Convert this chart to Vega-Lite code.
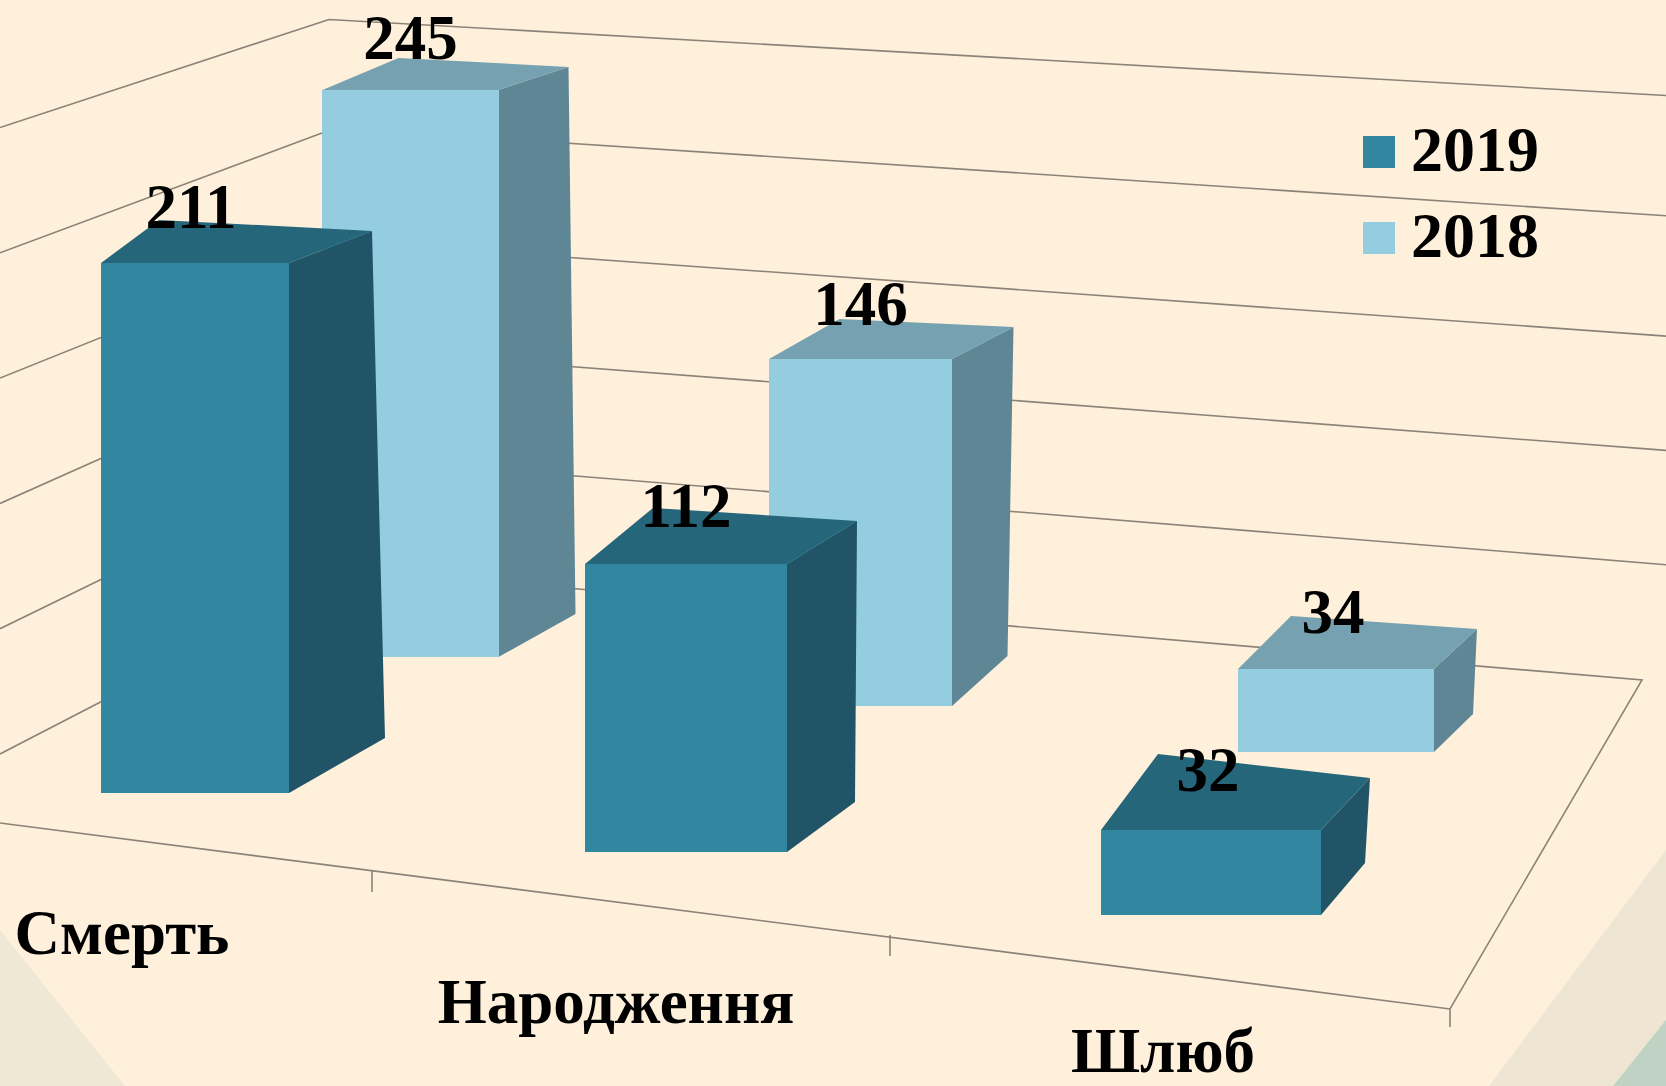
{"$schema":"https://vega.github.io/schema/vega-lite/v6.json","width":1666,"height":1086,"padding":0,"autosize":{"type":"none"},"background":"#FEF0DB","config":{"view":{"stroke":null}},"data":{"name":"bars","values":[{"category":"Смерть","year":"2019","value":211},{"category":"Смерть","year":"2018","value":245},{"category":"Народження","year":"2019","value":112},{"category":"Народження","year":"2018","value":146},{"category":"Шлюб","year":"2019","value":32},{"category":"Шлюб","year":"2018","value":34}]},"resolve":{"scale":{"x":"independent","y":"independent","shape":"independent"}},"layer":[
{"data":{"values":[{"part":"left"},{"part":"right"},{"part":"inner"}]},"encoding":{"x":{"datum":0,"type":"quantitative","axis":null,"scale":{"domain":[0,1],"range":[0,1666]}},"y":{"datum":0,"type":"quantitative","axis":null,"scale":{"domain":[0,1],"range":[1086,0]}},"shape":{"field":"part","type":"nominal","legend":null,"scale":{"domain":["left","right","inner"],"range":["M0 -156L125 0L0 0Z","M1489 0L1666 -236L1666 0Z","M1613 0L1666 -66L1666 0Z"]}},"fill":{"field":"part","type":"nominal","legend":null,"scale":{"domain":["left","right","inner"],"range":["#EFE8D5","#EEE6D2","#BFD2C4"]}}},"mark":{"type":"point","filled":true,"size":4,"opacity":1,"strokeWidth":0}},
{"data":{"values":[{"level":250},{"level":200},{"level":150},{"level":100},{"level":50},{"level":0}]},"encoding":{"x":{"datum":0,"type":"quantitative","axis":null,"scale":{"domain":[0,1],"range":[0,1666]}},"y":{"field":"level","type":"quantitative","axis":null,"scale":{"domain":[0,250],"range":[754,127.5],"nice":false}},"shape":{"field":"level","type":"nominal","legend":null,"scale":{"domain":[250,200,150,100,50,0],"range":["M0 0L329 -108L1666 -32","M0 0L336 -125L1666 -37","M0 0L341 -137L1666 -42","M0 0L346 -154L1666 -53","M0 0L351 -171L1666 -64","M0 0L356 -184L1642 -74L1450 255L0 69M372 117L372 138M890 181L890 202M1450 255L1450 273"]}}},"mark":{"type":"point","filled":false,"size":4,"opacity":1,"stroke":"#8C8378","strokeWidth":1.6}},
{"transform":[{"filter":"datum.category==='Смерть' && datum.year==='2018'"}],"encoding":{"x":{"field":"category","type":"nominal","axis":null,"scale":{"type":"point","domain":["Смерть"],"range":[410.5,410.5]}},"y":{"field":"value","type":"quantitative","axis":null,"scale":{"domain":[0,250],"range":[657,78.4],"nice":false}}},"layer":[
{"mark":{"type":"point","shape":"M88 0L158 -23L165 524L88 567Z","filled":true,"size":4,"opacity":1,"strokeWidth":0,"color":"#5F8694"}},
{"mark":{"type":"point","shape":"M-88 0L88 0L158 -23L-12 -32Z","filled":true,"size":4,"opacity":1,"strokeWidth":0,"color":"#75A1B1"}},
{"mark":{"type":"bar","width":177},"encoding":{"color":{"field":"year","type":"nominal","scale":{"domain":["2019","2018"],"range":["#33869F","#93CDDF"]},"legend":{"title":null,"orient":"none","legendX":1347,"legendY":120,"symbolType":"square","symbolSize":1024,"symbolStrokeWidth":0,"labelFont":"Liberation Serif","labelFontWeight":"bold","labelFontSize":64,"labelColor":"#000000","labelOffset":0,"rowPadding":22,"padding":0}}}},
{"mark":{"type":"text","font":"Liberation Serif","fontWeight":"bold","fontSize":63,"color":"#000000","baseline":"middle","dy":-50},"encoding":{"text":{"field":"value","type":"quantitative"}}}]},
{"transform":[{"filter":"datum.category==='Народження' && datum.year==='2018'"}],"encoding":{"x":{"field":"category","type":"nominal","axis":null,"scale":{"type":"point","domain":["Народження"],"range":[860.5,860.5]}},"y":{"field":"value","type":"quantitative","axis":null,"scale":{"domain":[0,250],"range":[706,112],"nice":false}}},"layer":[
{"mark":{"type":"point","shape":"M91.5 0L153 -32L147 297L91.5 347Z","filled":true,"size":4,"opacity":1,"strokeWidth":0,"color":"#5F8694"}},
{"mark":{"type":"point","shape":"M-91.5 0L91.5 0L153 -32L-21 -40Z","filled":true,"size":4,"opacity":1,"strokeWidth":0,"color":"#75A1B1"}},
{"mark":{"type":"bar","width":183},"encoding":{"color":{"field":"year","type":"nominal"}}},
{"mark":{"type":"text","font":"Liberation Serif","fontWeight":"bold","fontSize":63,"color":"#000000","baseline":"middle","dy":-53},"encoding":{"text":{"field":"value","type":"quantitative"}}}]},
{"transform":[{"filter":"datum.category==='Шлюб' && datum.year==='2018'"}],"encoding":{"x":{"field":"category","type":"nominal","axis":null,"scale":{"type":"point","domain":["Шлюб"],"range":[1336,1336]}},"y":{"field":"value","type":"quantitative","axis":null,"scale":{"domain":[0,250],"range":[752,142],"nice":false}}},"layer":[
{"mark":{"type":"point","shape":"M98 0L141 -40L137 45L98 83Z","filled":true,"size":4,"opacity":1,"strokeWidth":0,"color":"#5F8694"}},
{"mark":{"type":"point","shape":"M-98 0L98 0L141 -40L-45 -53Z","filled":true,"size":4,"opacity":1,"strokeWidth":0,"color":"#75A1B1"}},
{"mark":{"type":"bar","width":196},"encoding":{"color":{"field":"year","type":"nominal"}}},
{"mark":{"type":"text","font":"Liberation Serif","fontWeight":"bold","fontSize":63,"color":"#000000","baseline":"middle","dy":-55,"dx":-3},"encoding":{"text":{"field":"value","type":"quantitative"}}}]},
{"transform":[{"filter":"datum.category==='Смерть' && datum.year==='2019'"}],"encoding":{"x":{"field":"category","type":"nominal","axis":null,"scale":{"type":"point","domain":["Смерть"],"range":[195,195]}},"y":{"field":"value","type":"quantitative","axis":null,"scale":{"domain":[0,250],"range":[793,165],"nice":false}}},"layer":[
{"mark":{"type":"point","shape":"M94 0L177 -32L190 475L94 530Z","filled":true,"size":4,"opacity":1,"strokeWidth":0,"color":"#215467"}},
{"mark":{"type":"point","shape":"M-94 0L94 0L177 -32L-36 -43Z","filled":true,"size":4,"opacity":1,"strokeWidth":0,"color":"#25667A"}},
{"mark":{"type":"bar","width":188},"encoding":{"color":{"field":"year","type":"nominal"}}},
{"mark":{"type":"text","font":"Liberation Serif","fontWeight":"bold","fontSize":63,"color":"#000000","baseline":"middle","dy":-54,"dx":-4},"encoding":{"text":{"field":"value","type":"quantitative"}}},
{"mark":{"type":"text","font":"Liberation Serif","fontWeight":"bold","fontSize":63,"color":"#000000","baseline":"middle","dx":-73,"dy":142},"encoding":{"y":{"datum":0},"text":{"field":"category"}}}]},
{"transform":[{"filter":"datum.category==='Народження' && datum.year==='2019'"}],"encoding":{"x":{"field":"category","type":"nominal","axis":null,"scale":{"type":"point","domain":["Народження"],"range":[686,686]}},"y":{"field":"value","type":"quantitative","axis":null,"scale":{"domain":[0,250],"range":[852,209],"nice":false}}},"layer":[
{"mark":{"type":"point","shape":"M101 0L171 -43L169 238L101 288Z","filled":true,"size":4,"opacity":1,"strokeWidth":0,"color":"#215467"}},
{"mark":{"type":"point","shape":"M-101 0L101 0L171 -43L-33 -56Z","filled":true,"size":4,"opacity":1,"strokeWidth":0,"color":"#25667A"}},
{"mark":{"type":"bar","width":202},"encoding":{"color":{"field":"year","type":"nominal"}}},
{"mark":{"type":"text","font":"Liberation Serif","fontWeight":"bold","fontSize":63,"color":"#000000","baseline":"middle","dy":-56},"encoding":{"text":{"field":"value","type":"quantitative"}}},
{"mark":{"type":"text","font":"Liberation Serif","fontWeight":"bold","fontSize":63,"color":"#000000","baseline":"middle","dx":-70,"dy":152},"encoding":{"y":{"datum":0},"text":{"field":"category"}}}]},
{"transform":[{"filter":"datum.category==='Шлюб' && datum.year==='2019'"}],"encoding":{"x":{"field":"category","type":"nominal","axis":null,"scale":{"type":"point","domain":["Шлюб"],"range":[1211,1211]}},"y":{"field":"value","type":"quantitative","axis":null,"scale":{"domain":[0,250],"range":[915,251],"nice":false}}},"layer":[
{"mark":{"type":"point","shape":"M110 0L159 -52L154 33L110 85Z","filled":true,"size":4,"opacity":1,"strokeWidth":0,"color":"#215467"}},
{"mark":{"type":"point","shape":"M-110 0L110 0L159 -52L-53 -76Z","filled":true,"size":4,"opacity":1,"strokeWidth":0,"color":"#25667A"}},
{"mark":{"type":"bar","width":220},"encoding":{"color":{"field":"year","type":"nominal"}}},
{"mark":{"type":"text","font":"Liberation Serif","fontWeight":"bold","fontSize":63,"color":"#000000","baseline":"middle","dy":-58,"dx":-3},"encoding":{"text":{"field":"value","type":"quantitative"}}},
{"mark":{"type":"text","font":"Liberation Serif","fontWeight":"bold","fontSize":63,"color":"#000000","baseline":"middle","dx":-48,"dy":138},"encoding":{"y":{"datum":0},"text":{"field":"category"}}}]}
]}
